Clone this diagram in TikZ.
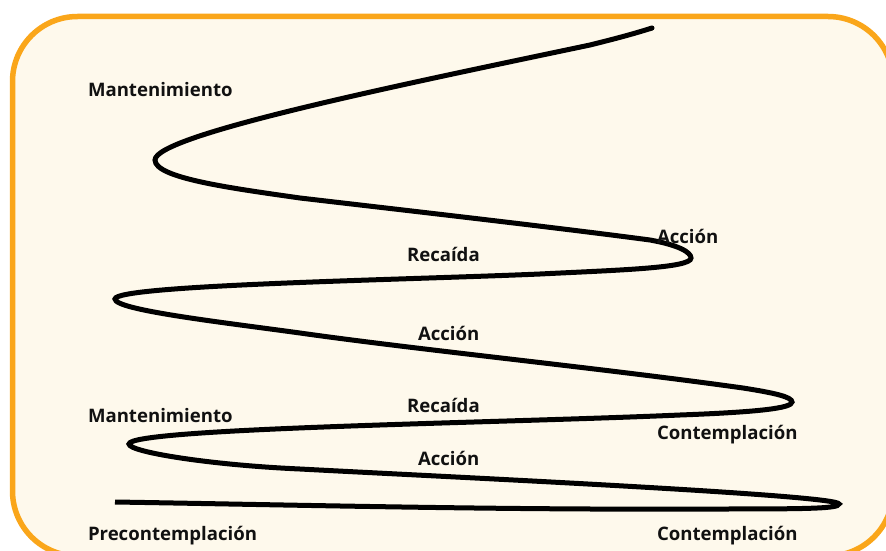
\documentclass[tikz,border=0pt]{standalone}
\usepackage{fontspec}
\setmainfont{Open Sans}
\definecolor{frameor}{HTML}{FAA61A}
\definecolor{framebg}{HTML}{FEF9EC}
\definecolor{labelink}{HTML}{111111}
\tikzset{
  lbl/.style={anchor=base west,inner sep=0pt,outer sep=0pt,text=labelink,font=\bfseries\fontsize{18.6pt}{22pt}\selectfont},
  spiral/.style={line width=5pt,black}
}
\begin{document}
\begin{tikzpicture}[x=1pt,y=-1pt]
\useasboundingbox (0,0) rectangle (886,551);
\draw[frameor,fill=framebg,line width=5.5pt,rounded corners=65pt] (12.5,16.5) rectangle (893,556);
\draw[spiral] (652,28) .. controls (630,35) and (610,40) .. (590,45)
  .. controls (400,85) and (155,135) .. (155,160)
  .. controls (155,178) and (230,188) .. (300,198)
  .. controls (420,212) and (560,228) .. (650,240)
  .. controls (678,245) and (691,252) .. (691,258)
  .. controls (691,268) and (620,270) .. (540,274)
  .. controls (400,280) and (115,285) .. (115,299)
  .. controls (115,310) and (220,322) .. (300,333)
  .. controls (420,350) and (600,368) .. (743,388)
  .. controls (775,393) and (792,397) .. (792,402)
  .. controls (792,408) and (760,412) .. (680,415)
  .. controls (500,423) and (129,428) .. (129,444)
  .. controls (129,452) and (210,465) .. (300,469)
  .. controls (450,477) and (839,495) .. (839,504)
  .. controls (839,509) and (800,509) .. (700,509)
  .. controls (500,510) and (300,505) .. (115,502);
\fill[black] (652,28) circle[radius=2.5pt];
\node[lbl] (m1) at (88,96) {Mantenimiento};
\node[lbl] (a1) at (657,243) {Acción};
\node[lbl] (r1) at (407,261) {Recaída};
\node[lbl] (a2) at (418,340) {Acción};
\node[lbl] (r2) at (407,412) {Recaída};
\node[lbl] (m2) at (88,422) {Mantenimiento};
\node[lbl] (c1) at (657,439) {Contemplación};
\node[lbl] (a3) at (418,465) {Acción};
\node[lbl] (p1) at (88,540) {Precontemplación};
\node[lbl] (c2) at (657,540) {Contemplación};
\end{tikzpicture}
\end{document}
